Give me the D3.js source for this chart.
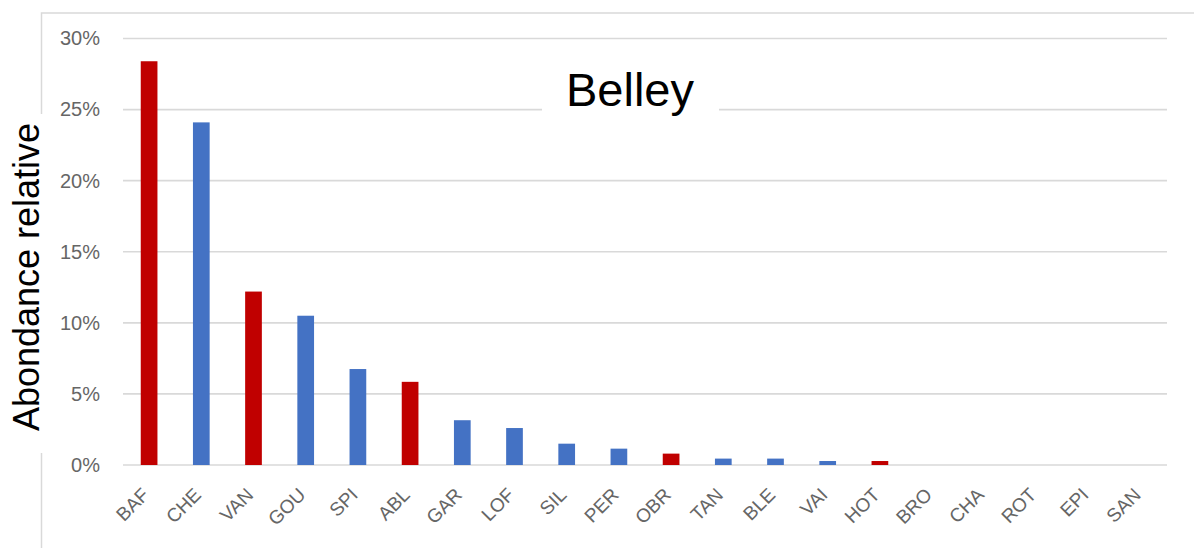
<!DOCTYPE html>
<html>
<head>
<meta charset="utf-8">
<script src="https://cdn.jsdelivr.net/npm/d3@7"></script>
<style>
  html, body { margin: 0; padding: 0; background: #fff; }
  svg { display: block; font-family: "Liberation Sans", Arial, sans-serif; }
</style>
</head>
<body>
<svg id="chart" width="1194" height="548"></svg>
<script>
// ---- data ----
const categories = ["BAF","CHE","VAN","GOU","SPI","ABL","GAR","LOF","SIL","PER","OBR","TAN","BLE","VAI","HOT","BRO","CHA","ROT","EPI","SAN"];
const values = [0.284, 0.241, 0.122, 0.105, 0.0675, 0.0585, 0.0315, 0.026, 0.015, 0.0115, 0.008, 0.0045, 0.0045, 0.0028, 0.0028, 0, 0, 0, 0, 0];
const groups = ["r","b","r","b","b","r","b","b","b","b","r","b","b","b","r","b","b","b","b","b"];
const yTicks = [0, 0.05, 0.10, 0.15, 0.20, 0.25, 0.30];
const titleText = "Belley";
const yLabel = "Abondance relative";

// ---- layout ----
const W = 1194, H = 548;
const plot = { left: 123, right: 1167, top: 38.5, bottom: 465 };

const svg = d3.select("#chart");

// chart border (top + left visible)
svg.append("rect")
  .attr("x", 41.5).attr("y", 13)
  .attr("width", W).attr("height", H)
  .attr("fill", "none").attr("stroke", "#d9d9d9").attr("stroke-width", 1.5);

const x = d3.scaleBand()
  .domain(categories)
  .range([plot.left, plot.right])
  .paddingInner(0.68).paddingOuter(0.34);

const y = d3.scaleLinear()
  .domain([0, 0.30])
  .range([plot.bottom, plot.top]);

const color = d3.scaleOrdinal().domain(["r","b"]).range(["#C00000","#4472C4"]);

// gridlines
svg.append("g")
  .selectAll("line")
  .data(yTicks)
  .join("line")
  .attr("x1", plot.left).attr("x2", plot.right)
  .attr("y1", d => y(d)).attr("y2", d => y(d))
  .attr("stroke", "#d9d9d9").attr("stroke-width", 1.6);

// y axis labels
const yAxis = svg.append("g")
  .attr("transform", `translate(${plot.left},0)`)
  .call(d3.axisLeft(y).tickValues(yTicks).tickFormat(d3.format(".0%")).tickSize(0).tickPadding(23));
yAxis.select(".domain").remove();
yAxis.selectAll("text")
  .attr("font-size", 20)
  .attr("font-family", "Liberation Sans, Arial, sans-serif")
  .attr("fill", "#666");

// bars
svg.append("g")
  .selectAll("rect")
  .data(categories)
  .join("rect")
  .attr("x", d => x(d))
  .attr("width", x.bandwidth())
  .attr("y", (d, i) => y(values[i]))
  .attr("height", (d, i) => y(0) - y(values[i]))
  .attr("fill", (d, i) => color(groups[i]));

// x axis labels
const xAxis = svg.append("g")
  .attr("transform", `translate(0,${plot.bottom})`)
  .call(d3.axisBottom(x).tickSize(0).tickPadding(0));
xAxis.select(".domain").remove();
xAxis.selectAll("text")
  .attr("font-size", 19)
  .attr("font-family", "Liberation Sans, Arial, sans-serif")
  .attr("fill", "#666")
  .attr("y", 0).attr("dy", 0)
  .attr("text-anchor", "end")
  .attr("transform", "translate(1,31) rotate(-45)");

// title with white background
svg.append("rect")
  .attr("x", 542).attr("y", 62).attr("width", 177).attr("height", 62)
  .attr("fill", "#fff");
svg.append("text")
  .attr("x", 630).attr("y", 106)
  .attr("text-anchor", "middle")
  .attr("font-size", 47)
  .attr("fill", "#000")
  .text(titleText);

// y axis title with white background
svg.append("rect")
  .attr("x", 4).attr("y", 114).attr("width", 44).attr("height", 339)
  .attr("fill", "#fff");
svg.append("text")
  .attr("transform", "translate(38.5,277) rotate(-90)")
  .attr("text-anchor", "middle")
  .attr("font-size", 36)
  .attr("fill", "#000")
  .text(yLabel);
</script>
</body>
</html>
